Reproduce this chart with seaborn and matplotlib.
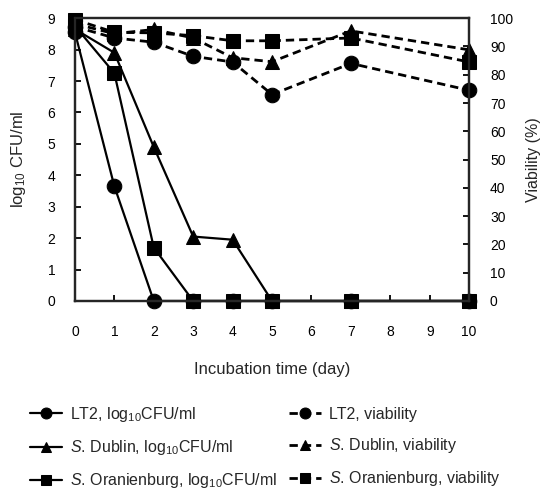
import matplotlib
matplotlib.use("Agg")
import matplotlib.pyplot as plt
import seaborn as sns
import pandas as pd

days = [0, 1, 2, 3, 4, 5, 7, 10]

lt2_cfu = [8.55, 3.65, 0, 0, 0, 0, 0, 0]
dublin_cfu = [8.65, 7.9, 4.9, 2.05, 1.95, 0, 0, 0]
oran_cfu = [8.75, 7.25, 1.7, 0, 0, 0, 0, 0]

lt2_via = [97.0, 93.0, 91.5, 86.5, 84.5, 73.0, 84.0, 74.5]
dublin_via = [98.0, 94.5, 96.0, 93.0, 86.0, 84.6, 95.5, 88.8]
oran_via = [99.5, 95.0, 94.8, 93.8, 92.0, 92.0, 93.0, 84.5]

labels_cfu = [r"LT2, log$_{10}$CFU/ml",
              r"$\it{S}$. Dublin, log$_{10}$CFU/ml",
              r"$\it{S}$. Oranienburg, log$_{10}$CFU/ml"]
labels_via = [r"LT2, viability",
              r"$\it{S}$. Dublin, viability",
              r"$\it{S}$. Oranienburg, viability"]
markers = ["o", "^", "s"]
msizes = [10.5, 10.5, 9.5]

sns.set_style("ticks")
plt.rcParams["font.family"] = ["Liberation Sans", "DejaVu Sans"]
plt.rcParams["mathtext.fontset"] = "custom"
plt.rcParams["mathtext.rm"] = "Liberation Sans"
plt.rcParams["mathtext.it"] = "Liberation Sans:italic"
plt.rcParams["mathtext.default"] = "regular"

fig = plt.figure(figsize=(5.43, 4.91), dpi=100)
ax = fig.add_axes([0.138, 0.387, 0.726, 0.576])
ax2 = ax.twinx()

handles = []
for vals, lab, mk, ms in zip([lt2_cfu, dublin_cfu, oran_cfu], labels_cfu, markers, msizes):
    df = pd.DataFrame({"day": days, "v": vals})
    sns.lineplot(data=df, x="day", y="v", ax=ax, color="black", marker=mk,
                 markersize=ms, markeredgecolor="black", linewidth=1.6,
                 clip_on=False, legend=False)
    ln = ax.lines[-1]
    ln.set_label(lab)
    handles.append(ln)

for vals, lab, mk, ms in zip([lt2_via, dublin_via, oran_via], labels_via, markers, msizes):
    df = pd.DataFrame({"day": days, "v": vals})
    sns.lineplot(data=df, x="day", y="v", ax=ax2, color="black", marker=mk,
                 markersize=ms, markeredgecolor="black", linewidth=2.0,
                 linestyle=(0, (3, 1.8)), clip_on=False, legend=False)
    ln = ax2.lines[-1]
    ln.set_label(lab)
    handles.append(ln)

ax.set_xlim(0, 10)
ax.set_ylim(0, 9)
ax2.set_ylim(0, 100)
ax.set_xticks(range(0, 11))
ax.set_yticks(range(0, 10))
ax2.set_yticks(range(0, 101, 10))

for a in (ax, ax2):
    for s in a.spines.values():
        s.set_linewidth(1.6)
        s.set_visible(True)
    a.tick_params(direction="in", length=4, width=1.3, labelsize=10, colors="black")
ax.tick_params(axis="x", pad=17)
ax.tick_params(axis="y", pad=14)
ax2.tick_params(axis="y", pad=15)

ax.set_xlabel("Incubation time (day)", fontsize=12, labelpad=17)
ax.set_ylabel(r"log$_{10}$ CFU/ml", fontsize=12, labelpad=14)
ax2.set_ylabel("Viability (%)", fontsize=11.5, labelpad=9)

fig.legend(handles=handles, labels=[h.get_label() for h in handles],
           loc="upper left", bbox_to_anchor=(0.028, 0.205), ncol=2,
           frameon=False, fontsize=11.5, handlelength=2.0, markerscale=0.75,
           labelspacing=0.9, columnspacing=0.8, handletextpad=0.5)

fig.savefig("out.png", dpi=100)
